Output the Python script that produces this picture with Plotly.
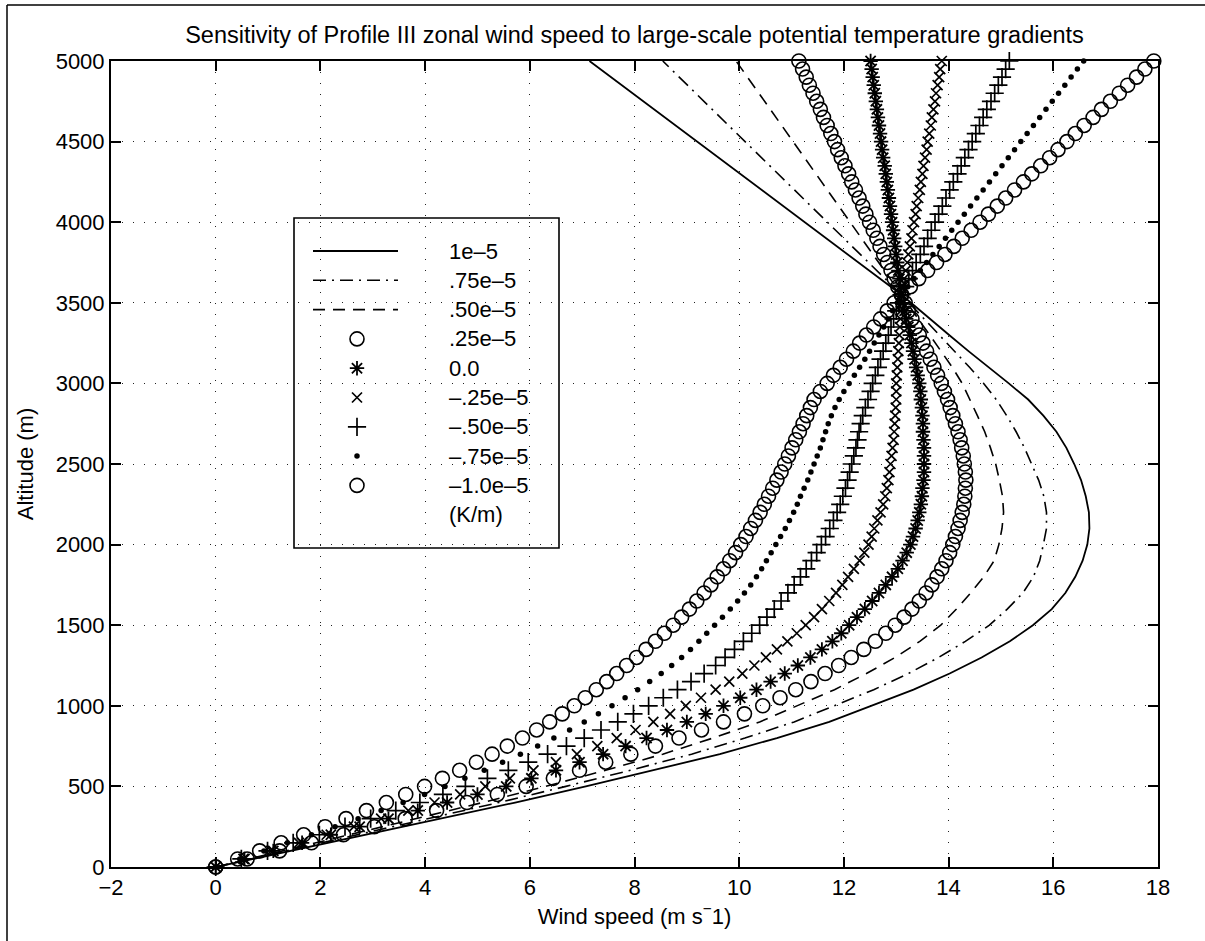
import plotly.graph_objects as go

# ---------------- data ----------------
ALT = [0, 50, 100, 150, 200, 250, 300, 350, 400, 450, 500, 550, 600, 650, 700, 750, 800, 850, 900, 950,
       1000, 1050, 1100, 1150, 1200, 1250, 1300, 1350, 1400, 1450, 1500, 1550, 1600, 1650, 1700, 1750,
       1800, 1850, 1900, 1950, 2000, 2050, 2100, 2150, 2200, 2250, 2300, 2350, 2400, 2450, 2500, 2550,
       2600, 2650, 2700, 2750, 2800, 2850, 2900, 2950, 3000, 3050, 3100, 3150, 3200, 3250, 3300, 3350,
       3400, 3450, 3500, 3550, 3600, 3650, 3700, 3750, 3800, 3850, 3900, 3950, 4000, 4050, 4100, 4150,
       4200, 4250, 4300, 4350, 4400, 4450, 4500, 4550, 4600, 4650, 4700, 4750, 4800, 4850, 4900, 4950, 5000]

ALT_LINE = [0, 100, 200, 300, 400, 500, 600, 700, 800, 900, 1000, 1100, 1200, 1300, 1400, 1500, 1600,
            1700, 1800, 1900, 2000, 2100, 2200, 2300, 2400, 2500, 2600, 2700, 2800, 2900, 3000, 3100,
            3200, 3300, 3400, 3500, 3550, 5000]

U_P100 = [0, 1.43, 2.86, 4.33, 5.72, 7.07, 8.38, 9.63, 10.72, 11.72, 12.52, 13.33, 14.02, 14.63, 15.17,
          15.61, 15.97, 16.23, 16.42, 16.56, 16.65, 16.69, 16.68, 16.62, 16.53, 16.4, 16.25, 16.06, 15.81,
          15.52, 15.15, 14.76, 14.38, 14.01, 13.64, 13.27, 13.1, 7.14]

U_P075 = [0, 1.36, 2.71, 4.1, 5.41, 6.69, 7.92, 9.09, 10.11, 11.05, 11.81, 12.57, 13.23, 13.81, 14.32,
          14.78, 15.12, 15.42, 15.62, 15.74, 15.81, 15.87, 15.87, 15.82, 15.72, 15.59, 15.45, 15.29, 15.11,
          14.91, 14.67, 14.4, 14.11, 13.82, 13.53, 13.25, 13.1, 8.54]

U_P050 = [0, 1.28, 2.57, 3.87, 5.1, 6.3, 7.45, 8.54, 9.5, 10.39, 11.1, 11.82, 12.43, 12.98, 13.45,
          13.85, 14.15, 14.42, 14.67, 14.87, 14.96, 15.02, 15.05, 15.03, 14.97, 14.9, 14.8, 14.69, 14.55,
          14.4, 14.26, 14.07, 13.86, 13.64, 13.42, 13.2, 13.1, 9.94]

U_P025 = [0, 0.6, 1.22, 1.83, 2.44, 3.03, 3.62, 4.22, 4.8, 5.38, 5.93, 6.45, 6.95, 7.45, 7.93, 8.4, 8.85,
          9.28, 9.7, 10.1, 10.45, 10.78, 11.08, 11.37, 11.64, 11.9, 12.14, 12.38, 12.6, 12.8, 12.98, 13.15,
          13.3, 13.44, 13.57, 13.68, 13.78, 13.87, 13.95, 14.02, 14.08, 14.13, 14.18, 14.22, 14.26, 14.29,
          14.31, 14.32, 14.33, 14.32, 14.3, 14.28, 14.25, 14.22, 14.18, 14.13, 14.08, 14.03, 13.98, 13.92,
          13.86, 13.79, 13.72, 13.65, 13.58, 13.51, 13.44, 13.37, 13.3, 13.23, 13.17, 13.1,
          13.03, 12.96, 12.9, 12.83, 12.76, 12.69, 12.63, 12.56, 12.49, 12.42, 12.36, 12.29, 12.22, 12.15,
          12.09, 12.02, 11.95, 11.88, 11.82, 11.75, 11.68, 11.61, 11.55, 11.48, 11.41, 11.34, 11.28, 11.21,
          11.14]

U_000 = [0, 0.55, 1.1, 1.65, 2.2, 2.75, 3.3, 3.86, 4.42, 5.0, 5.55, 6.03, 6.5, 6.95, 7.4, 7.83, 8.23, 8.62,
         9.0, 9.36, 9.7, 10.02, 10.33, 10.6, 10.87, 11.12, 11.36, 11.58, 11.78, 11.95, 12.1, 12.25, 12.4,
         12.54, 12.67, 12.8, 12.92, 13.03, 13.12, 13.2, 13.27, 13.32, 13.37, 13.41, 13.44, 13.47, 13.49,
         13.5, 13.52, 13.53, 13.53, 13.53, 13.53, 13.52, 13.51, 13.51, 13.5, 13.49, 13.47, 13.46, 13.44,
         13.41, 13.38, 13.35, 13.32, 13.29, 13.26, 13.23, 13.19, 13.16, 13.13, 13.1,
         13.08, 13.06, 13.04, 13.02, 13.0, 12.98, 12.96, 12.94, 12.92, 12.9, 12.88, 12.86, 12.84, 12.82,
         12.8, 12.78, 12.75, 12.73, 12.71, 12.69, 12.67, 12.65, 12.63, 12.61, 12.59, 12.57, 12.55, 12.53,
         12.51]

U_M025 = [0, 0.53, 1.06, 1.59, 2.12, 2.64, 3.16, 3.68, 4.18, 4.67, 5.15, 5.62, 6.07, 6.5, 6.9, 7.29,
          7.66, 8.02, 8.36, 8.68, 8.98, 9.27, 9.55, 9.81, 10.06, 10.29, 10.51, 10.72, 10.92, 11.1, 11.27,
          11.43, 11.58, 11.72, 11.85, 11.97, 12.08, 12.19, 12.3, 12.39, 12.47, 12.53, 12.58, 12.64, 12.7,
          12.75, 12.79, 12.82, 12.85, 12.87, 12.89, 12.91, 12.93, 12.95, 12.96, 12.97, 12.98, 12.99, 13.0,
          13.0, 13.0, 13.01, 13.02, 13.03, 13.04, 13.05, 13.06, 13.07, 13.08, 13.09, 13.1, 13.1,
          13.13, 13.15, 13.18, 13.21, 13.23, 13.26, 13.29, 13.31, 13.34, 13.37, 13.39, 13.42, 13.45, 13.47,
          13.5, 13.52, 13.55, 13.58, 13.6, 13.63, 13.66, 13.68, 13.71, 13.74, 13.76, 13.79, 13.82, 13.84,
          13.87]

U_M050 = [0, 0.49, 0.99, 1.48, 1.98, 2.47, 2.96, 3.44, 3.9, 4.34, 4.77, 5.19, 5.59, 5.97, 6.34, 6.7,
          7.04, 7.36, 7.68, 7.98, 8.27, 8.55, 8.82, 9.08, 9.33, 9.55, 9.73, 9.91, 10.08, 10.24, 10.39,
          10.53, 10.67, 10.8, 10.93, 11.05, 11.17, 11.28, 11.38, 11.48, 11.57, 11.65, 11.73, 11.8, 11.87,
          11.93, 11.98, 12.03, 12.07, 12.11, 12.15, 12.19, 12.23, 12.26, 12.29, 12.32, 12.36, 12.41, 12.46,
          12.51, 12.55, 12.6, 12.65, 12.7, 12.75, 12.8, 12.85, 12.9, 12.95, 13.0, 13.05, 13.1,
          13.17, 13.24, 13.31, 13.38, 13.46, 13.53, 13.6, 13.67, 13.74, 13.81, 13.88, 13.95, 14.02, 14.09,
          14.17, 14.24, 14.31, 14.38, 14.45, 14.52, 14.59, 14.66, 14.73, 14.81, 14.88, 14.95, 15.02, 15.09,
          15.16]

U_M075 = [0, 0.46, 0.92, 1.37, 1.83, 2.28, 2.72, 3.16, 3.58, 3.99, 4.38, 4.76, 5.13, 5.48, 5.82, 6.15,
          6.46, 6.76, 7.04, 7.31, 7.57, 7.82, 8.06, 8.29, 8.51, 8.71, 8.9, 9.07, 9.23, 9.38, 9.53, 9.68,
          9.83, 9.97, 10.1, 10.22, 10.33, 10.43, 10.52, 10.61, 10.7, 10.79, 10.88, 10.96, 11.04, 11.11,
          11.17, 11.24, 11.31, 11.37, 11.43, 11.49, 11.55, 11.6, 11.65, 11.7, 11.76, 11.83, 11.91, 12.0,
          12.1, 12.2, 12.3, 12.4, 12.49, 12.58, 12.67, 12.76, 12.85, 12.93, 13.02, 13.1,
          13.22, 13.34, 13.46, 13.58, 13.7, 13.82, 13.94, 14.06, 14.18, 14.3, 14.42, 14.54, 14.66, 14.78,
          14.9, 15.02, 15.14, 15.26, 15.38, 15.5, 15.62, 15.74, 15.86, 15.98, 16.1, 16.22, 16.34, 16.46,
          16.58]

U_M100 = [0, 0.42, 0.84, 1.25, 1.68, 2.09, 2.49, 2.88, 3.26, 3.63, 3.99, 4.33, 4.66, 4.98, 5.28, 5.57,
          5.86, 6.13, 6.38, 6.62, 6.85, 7.06, 7.27, 7.47, 7.66, 7.85, 8.04, 8.22, 8.4, 8.57, 8.74, 8.9,
          9.05, 9.19, 9.33, 9.46, 9.58, 9.7, 9.82, 9.93, 10.03, 10.13, 10.22, 10.31, 10.4, 10.48, 10.56,
          10.64, 10.72, 10.8, 10.87, 10.94, 11.01, 11.08, 11.15, 11.22, 11.29, 11.36, 11.43, 11.55, 11.68,
          11.8, 11.93, 12.05, 12.18, 12.3, 12.43, 12.57, 12.7, 12.83, 12.96, 13.1,
          13.27, 13.43, 13.6, 13.77, 13.93, 14.1, 14.26, 14.43, 14.6, 14.76, 14.93, 15.09, 15.26, 15.43,
          15.59, 15.76, 15.93, 16.09, 16.26, 16.42, 16.59, 16.76, 16.92, 17.09, 17.26, 17.42, 17.59, 17.75,
          17.92]

LEGEND_LABELS = ["1e\u20135", ".75e\u20135", ".50e\u20135", ".25e\u20135", "0.0", "\u2013.25e\u20135",
                 "\u2013.50e\u20135", "\u2013.75e\u20135", "\u20131.0e\u20135", "(K/m)"]

TITLE = "Sensitivity of Profile III zonal wind speed to large-scale potential temperature gradients"

# ---------------- geometry helpers (pixel -> paper) ----------------
W, H = 1205, 941
L, R, T, B = 111, 47, 61, 74
PW, PH = W - L - R, H - T - B


def px(xp):
    return (xp - L) / PW


def py(yp):
    return (H - B - yp) / PH


FONT = "Liberation Sans, Arial, Helvetica, sans-serif"
BLACK = "black"

# ---------------- styles ----------------
LINE_SERIES = [
    (U_P100, dict(color=BLACK, width=1.8, dash="solid")),
    (U_P075, dict(color=BLACK, width=1.6, dash="13px,6px,2px,6px")),
    (U_P050, dict(color=BLACK, width=1.6, dash="12px,8px")),
]
MARKER_SERIES = [
    (U_P025, dict(symbol="circle-open", size=14, color=BLACK, line=dict(width=1.6, color=BLACK))),
    (U_000, dict(symbol="asterisk-open", size=12, color=BLACK, line=dict(width=1.8, color=BLACK))),
    (U_M025, dict(symbol="x-thin-open", size=10, color=BLACK, line=dict(width=1.7, color=BLACK))),
    (U_M050, dict(symbol="cross-thin-open", size=13, color=BLACK, line=dict(width=1.7, color=BLACK))),
    (U_M075, dict(symbol="circle", size=5.5, color=BLACK)),
    (U_M100, dict(symbol="circle-open", size=14, color=BLACK, line=dict(width=1.6, color=BLACK))),
]

fig = go.Figure()
for vals, ln in LINE_SERIES:
    fig.add_trace(go.Scatter(x=vals, y=ALT_LINE, mode="lines", line=ln, showlegend=False,
                             hoverinfo="skip"))
for vals, mk in MARKER_SERIES:
    fig.add_trace(go.Scatter(x=vals, y=ALT, mode="markers", marker=mk, cliponaxis=False,
                             showlegend=False, hoverinfo="skip"))

# ---------------- hand-drawn legend box (MATLAB style) ----------------
BOX = (294, 218, 559, 548)
ROW0, ROWSTEP = 251, 29.3
SAMPLE_X0, SAMPLE_X1, MARK_X, TEXT_X = 313, 398, 357, 447

rows = [ROW0 + i * ROWSTEP for i in range(len(LEGEND_LABELS))]
for i, (vals, ln) in enumerate(LINE_SERIES):
    fig.add_trace(go.Scatter(x=[px(SAMPLE_X0), px(SAMPLE_X1)], y=[py(rows[i])] * 2, xaxis="x2",
                             yaxis="y2", mode="lines", line=ln, showlegend=False, hoverinfo="skip"))
for j, (vals, mk) in enumerate(MARKER_SERIES):
    fig.add_trace(go.Scatter(x=[px(MARK_X)], y=[py(rows[3 + j])], xaxis="x2", yaxis="y2",
                             mode="markers", marker=mk, showlegend=False, hoverinfo="skip"))

annotations = []
for i, lab in enumerate(LEGEND_LABELS):
    annotations.append(dict(x=px(TEXT_X), y=py(rows[i]), xref="paper", yref="paper", text=lab,
                            showarrow=False, xanchor="left", yanchor="middle",
                            font=dict(family=FONT, size=22, color=BLACK)))

shapes = [
    dict(type="rect", xref="paper", yref="paper", x0=px(BOX[0]), x1=px(BOX[2]), y0=py(BOX[3]),
         y1=py(BOX[1]), line=dict(color=BLACK, width=1.6), fillcolor="white", layer="between"),
    # scanned page frame (top and left edges)
    dict(type="line", xref="paper", yref="paper", x0=px(7), x1=px(1205), y0=py(5), y1=py(5),
         line=dict(color=BLACK, width=1.5)),
    dict(type="line", xref="paper", yref="paper", x0=px(7), x1=px(7), y0=py(5), y1=py(941),
         line=dict(color=BLACK, width=1.5)),
]

axis_common = dict(
    showline=True, linecolor=BLACK, linewidth=2, mirror="ticks",
    ticks="inside", ticklen=10, tickwidth=1.5, tickcolor=BLACK,
    showgrid=True, gridcolor="#222", gridwidth=1, griddash="1px,10px",
    zeroline=False, tickfont=dict(family=FONT, size=22, color=BLACK),
)

fig.update_layout(
    width=W, height=H,
    margin=dict(l=L, r=R, t=T, b=B, autoexpand=False),
    paper_bgcolor="white", plot_bgcolor="white",
    font=dict(family=FONT, color=BLACK),
    title=dict(text=TITLE, x=0.5, xref="paper", xanchor="center", y=1 - 35 / H, yref="container",
               yanchor="middle", font=dict(family=FONT, size=23.5, color=BLACK)),
    xaxis=dict(range=[-2, 18], tick0=-2, dtick=2, title=dict(text="Wind speed (m s<sup>\u2212</sup>1)",
               font=dict(family=FONT, size=22, color=BLACK), standoff=6), **axis_common),
    yaxis=dict(range=[0, 5000], tick0=0, dtick=500, title=dict(text="Altitude (m)",
               font=dict(family=FONT, size=22, color=BLACK), standoff=16), **axis_common),
    xaxis2=dict(overlaying="x", range=[0, 1], visible=False, anchor="y2"),
    yaxis2=dict(overlaying="y", range=[0, 1], visible=False, anchor="x2"),
    annotations=annotations,
    shapes=shapes,
    showlegend=False,
)

fig.write_html("out.html")
